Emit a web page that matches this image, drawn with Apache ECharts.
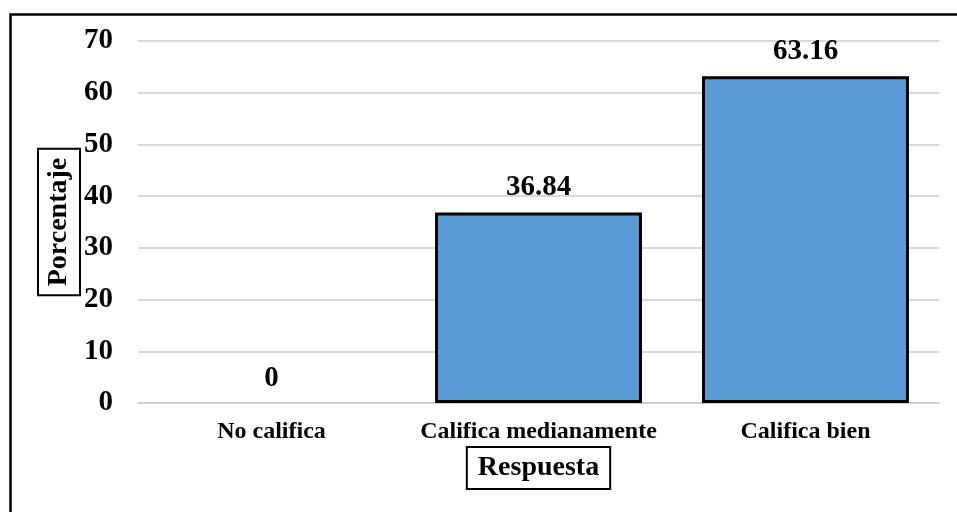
<!DOCTYPE html>
<html>
<head>
<meta charset="utf-8">
<script src="https://cdn.jsdelivr.net/npm/echarts@6/dist/echarts.min.js"></script>
<style>
html,body{margin:0;padding:0;background:#fff;}
#chart{width:957px;height:512px;}
</style>
</head>
<body>
<div id="chart"></div>
<script>
const categories = ['No califica', 'Califica medianamente', 'Califica bien'];
const values = [0, 36.84, 63.16];
const yTicks = [0, 10, 20, 30, 40, 50, 60, 70];
const xTitle = 'Respuesta';
const yTitle = 'Porcentaje';

const FONT = "'Liberation Serif', 'Times New Roman', serif";
const chart = echarts.init(document.getElementById('chart'), null, {renderer: 'canvas'});
const barData = values.map(v => ({
  value: v,
  itemStyle: v === 0 ? {borderWidth: 0} : {}
}));
chart.setOption({
  animation: false,
  backgroundColor: '#fff',
  graphic: [{
    type: 'rect', left: 8, top: 12, z: 100, silent: true,
    shape: {width: 1000, height: 600},
    style: {fill: 'none', stroke: '#000', lineWidth: 2.5}
  }],
  grid: {left: 138, right: 18, top: 41, bottom: 109},
  xAxis: {
    type: 'category',
    data: categories,
    name: xTitle,
    nameLocation: 'middle',
    nameGap: 44,
    nameMoveOverlap: false,
    nameTextStyle: {
      fontFamily: FONT, fontWeight: 'bold', fontSize: 28, color: '#000',
      borderColor: '#000', borderWidth: 2, padding: [6, 11, 6, 11], lineHeight: 30
    },
    axisLine: {show: true, lineStyle: {color: '#d0d0d0', width: 2}},
    axisTick: {show: false},
    axisLabel: {
      interval: 0,
      fontFamily: FONT, fontWeight: 'bold', fontSize: 24, color: '#000', margin: 17
    }
  },
  yAxis: {
    type: 'value',
    min: yTicks[0],
    max: yTicks[yTicks.length - 1],
    interval: 10,
    name: yTitle,
    nameLocation: 'middle',
    nameRotate: 90,
    nameGap: 58,
    nameMoveOverlap: false,
    nameTextStyle: {
      fontFamily: FONT, fontWeight: 'bold', fontSize: 28, color: '#000',
      borderColor: '#000', borderWidth: 2, padding: [6, 9, 6, 9], lineHeight: 30
    },
    axisLine: {show: false},
    axisTick: {show: false},
    axisLabel: {
      fontFamily: FONT, fontWeight: 'bold', fontSize: 29, color: '#000', margin: 25
    },
    splitLine: {lineStyle: {color: '#d9d9d9', width: 2}}
  },
  series: [{
    type: 'bar',
    data: barData,
    barCategoryGap: '22.5%',
    itemStyle: {color: '#5B9BD5', borderColor: '#000', borderWidth: 3},
    label: {
      show: true, position: 'top', distance: 10,
      fontFamily: FONT, fontWeight: 'bold', fontSize: 29, color: '#000'
    }
  }]
});
</script>
</body>
</html>
